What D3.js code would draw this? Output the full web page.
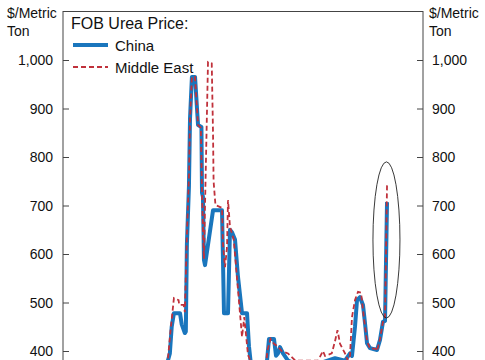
<!DOCTYPE html>
<html>
<head>
<meta charset="utf-8">
<script src="https://cdn.jsdelivr.net/npm/d3@7"></script>
<style>
  body { margin: 0; background: #fff; }
  text { font-family: "Liberation Sans", Arial, sans-serif; fill: #111; }
</style>
</head>
<body>
<div id="myChart"></div>
<script>
// FOB urea price, $/metric ton
const chinaSeries = [
  ["2005-10-01", 290], ["2006-09-01", 300], ["2007-01-01", 381], ["2007-02-15", 395],
  ["2007-04-01", 450], ["2007-05-25", 478], ["2007-10-20", 478], ["2007-12-01", 455],
  ["2008-02-15", 437], ["2008-03-10", 440], ["2008-04-05", 620], ["2008-05-25", 740],
  ["2008-06-20", 880], ["2008-08-05", 965], ["2008-10-20", 965], ["2009-01-01", 866],
  ["2009-03-25", 862], ["2009-04-08", 726], ["2009-05-01", 718], ["2009-05-25", 588],
  ["2009-06-20", 577], ["2010-01-01", 690], ["2010-08-08", 690], ["2010-09-01", 585],
  ["2010-09-25", 478], ["2011-01-01", 478], ["2011-02-18", 650], ["2011-04-08", 645],
  ["2011-06-20", 630], ["2011-09-01", 553], ["2011-12-08", 478], ["2012-04-08", 478],
  ["2012-05-25", 410], ["2012-07-15", 370], ["2012-10-20", 340], ["2013-06-20", 345],
  ["2013-08-08", 380], ["2013-09-25", 425], ["2014-01-25", 425], ["2014-03-15", 390],
  ["2014-05-01", 395], ["2014-06-20", 408], ["2014-09-01", 395], ["2015-01-01", 380],
  ["2015-10-20", 370], ["2017-02-18", 375], ["2018-02-18", 385], ["2018-10-20", 380],
  ["2019-02-18", 395], ["2019-04-08", 390], ["2019-06-20", 450], ["2019-08-08", 505],
  ["2019-10-20", 511], ["2020-01-01", 495], ["2020-02-18", 458], ["2020-04-08", 416],
  ["2020-06-20", 406], ["2020-12-08", 402], ["2021-02-18", 423], ["2021-05-01", 460],
  ["2021-06-20", 462], ["2021-08-08", 707]
]

const middleEastSeries = [
  ["2005-10-01", 290], ["2006-09-01", 300], ["2007-01-01", 385], ["2007-03-01", 440],
  ["2007-05-25", 509], ["2007-09-15", 505], ["2007-10-01", 495], ["2008-01-15", 495],
  ["2008-02-15", 480], ["2008-04-05", 640], ["2008-05-25", 760], ["2008-06-20", 880],
  ["2008-08-05", 965], ["2008-10-20", 965], ["2009-01-01", 866], ["2009-03-10", 860],
  ["2009-04-08", 730], ["2009-05-01", 650], ["2009-05-25", 590], ["2009-06-20", 700],
  ["2009-09-01", 996], ["2009-12-01", 993], ["2010-01-01", 850], ["2010-01-15", 750],
  ["2010-03-01", 701], ["2010-08-08", 695], ["2010-09-01", 620], ["2010-10-20", 573],
  ["2010-12-08", 614], ["2011-01-01", 711], ["2011-02-18", 656], ["2011-05-20", 630],
  ["2011-09-01", 526], ["2011-12-08", 429], ["2012-02-01", 470], ["2012-05-01", 392],
  ["2012-08-15", 370], ["2012-10-20", 340], ["2013-06-20", 345], ["2013-08-15", 400],
  ["2013-11-01", 425], ["2014-01-25", 415], ["2014-04-20", 410], ["2014-08-01", 400],
  ["2015-01-01", 395], ["2015-07-01", 380], ["2017-01-01", 380], ["2017-05-01", 400],
  ["2017-06-20", 390], ["2017-12-01", 395], ["2018-02-18", 420], ["2018-04-20", 443],
  ["2018-06-20", 415], ["2018-10-20", 395], ["2019-01-01", 380], ["2019-02-18", 390],
  ["2019-04-08", 470], ["2019-06-20", 505], ["2019-09-01", 522], ["2019-11-15", 520],
  ["2020-01-20", 470], ["2020-04-08", 420], ["2020-06-20", 405], ["2020-11-01", 405],
  ["2020-12-08", 400], ["2021-02-18", 425], ["2021-05-01", 460], ["2021-06-20", 470],
  ["2021-08-08", 742]
]

const yTicks = [400, 500, 600, 700, 800, 900, 1000]
const legendTitle = "FOB Urea Price:"
const seriesNames = ["China", "Middle East"]
const unitLabel = ["$/Metric", "Ton"]

// highlighted spike (ellipse): centre date, value band, half-width in years
const highlight = { date: "2021-07-25", low: 468, high: 790, halfYears: 0.9 }

let width = 485
let height = 360
const margin = { left: 63, right: 62, top: 11.5 }

let parse = d3.timeParse("%Y-%m-%d")

let x = d3.scaleTime()
  .domain([new Date(2000, 0, 1), new Date(2024, 0, 1)])
  .range([margin.left, width - margin.right])

let y = d3.scaleLinear()
  .domain([200, 1100])
  .range([margin.top + 900 * 0.485, margin.top])

let svg = d3.select("#myChart")
  .append("svg")
  .attr("width", width)
  .attr("height", height)

svg.append("clipPath")
  .attr("id", "plotClip")
  .append("rect")
  .attr("x", x.range()[0])
  .attr("y", y(1100))
  .attr("width", x.range()[1] - x.range()[0])
  .attr("height", y(200) - y(1100))

// frame
svg.append("rect")
  .attr("x", x.range()[0])
  .attr("y", y(1100))
  .attr("width", x.range()[1] - x.range()[0])
  .attr("height", y(200) - y(1100))
  .attr("fill", "none")
  .attr("stroke", "#444")
  .attr("stroke-width", 1)

// axes, ticks pointing inward
let leftAxis = d3.axisRight(y).tickValues(yTicks).tickSize(6).tickFormat("")
let rightAxis = d3.axisLeft(y).tickValues(yTicks).tickSize(6).tickFormat("")

svg.append("g")
  .attr("transform", `translate(${x.range()[0]},0)`)
  .call(leftAxis)
  .call(g => g.select(".domain").remove())
  .selectAll("line").attr("stroke", "#444")

svg.append("g")
  .attr("transform", `translate(${x.range()[1]},0)`)
  .call(rightAxis)
  .call(g => g.select(".domain").remove())
  .selectAll("line").attr("stroke", "#444")

let fmt = d3.format(",")

svg.append("g").selectAll("text")
  .data(yTicks)
  .enter().append("text")
  .attr("x", 53)
  .attr("y", d => y(d) + 5)
  .attr("text-anchor", "end")
  .style("font-size", "14px")
  .text(d => fmt(d))

svg.append("g").selectAll("text")
  .data(yTicks)
  .enter().append("text")
  .attr("x", 432)
  .attr("y", d => y(d) + 5)
  .style("font-size", "14px")
  .text(d => fmt(d))

// unit labels
unitLabel.forEach((t, i) => {
  svg.append("text").attr("x", 7).attr("y", 18 + i * 18)
    .style("font-size", "14px").text(t)
  svg.append("text").attr("x", 429).attr("y", 18 + i * 18)
    .style("font-size", "14px").text(t)
})

let line = d3.line()
  .x(d => x(parse(d[0])))
  .y(d => y(d[1]))

let plot = svg.append("g").attr("clip-path", "url(#plotClip)")

plot.append("path")
  .datum(chinaSeries)
  .attr("d", line)
  .attr("fill", "none")
  .attr("stroke", "#1a76bd")
  .attr("stroke-width", 4)
  .attr("stroke-linejoin", "round")

plot.append("path")
  .datum(middleEastSeries)
  .attr("d", line)
  .attr("fill", "none")
  .attr("stroke", "#c0313b")
  .attr("stroke-width", 1.8)
  .attr("stroke-dasharray", "5,3")

// ellipse around the latest spike
let hcx = x(parse(highlight.date))
let hrx = hcx - x(d3.timeDay.offset(parse(highlight.date), -Math.round(highlight.halfYears * 365)))
svg.append("ellipse")
  .attr("cx", hcx)
  .attr("cy", (y(highlight.low) + y(highlight.high)) / 2)
  .attr("rx", hrx)
  .attr("ry", (y(highlight.low) - y(highlight.high)) / 2)
  .attr("fill", "none")
  .attr("stroke", "#222")
  .attr("stroke-width", 0.9)

// legend
let legend = svg.append("g")
legend.append("text")
  .attr("x", 71).attr("y", 29)
  .style("font-size", "16px")
  .text(legendTitle)

legend.append("line")
  .attr("x1", 73).attr("x2", 108).attr("y1", 45).attr("y2", 45)
  .attr("stroke", "#1a76bd").attr("stroke-width", 4)
legend.append("text")
  .attr("x", 115).attr("y", 51)
  .style("font-size", "15px")
  .text(seriesNames[0])

legend.append("line")
  .attr("x1", 73).attr("x2", 108).attr("y1", 67).attr("y2", 67)
  .attr("stroke", "#c0313b").attr("stroke-width", 1.8)
  .attr("stroke-dasharray", "5,3")
legend.append("text")
  .attr("x", 115).attr("y", 73)
  .style("font-size", "15px")
  .text(seriesNames[1])
</script>
</body>
</html>
